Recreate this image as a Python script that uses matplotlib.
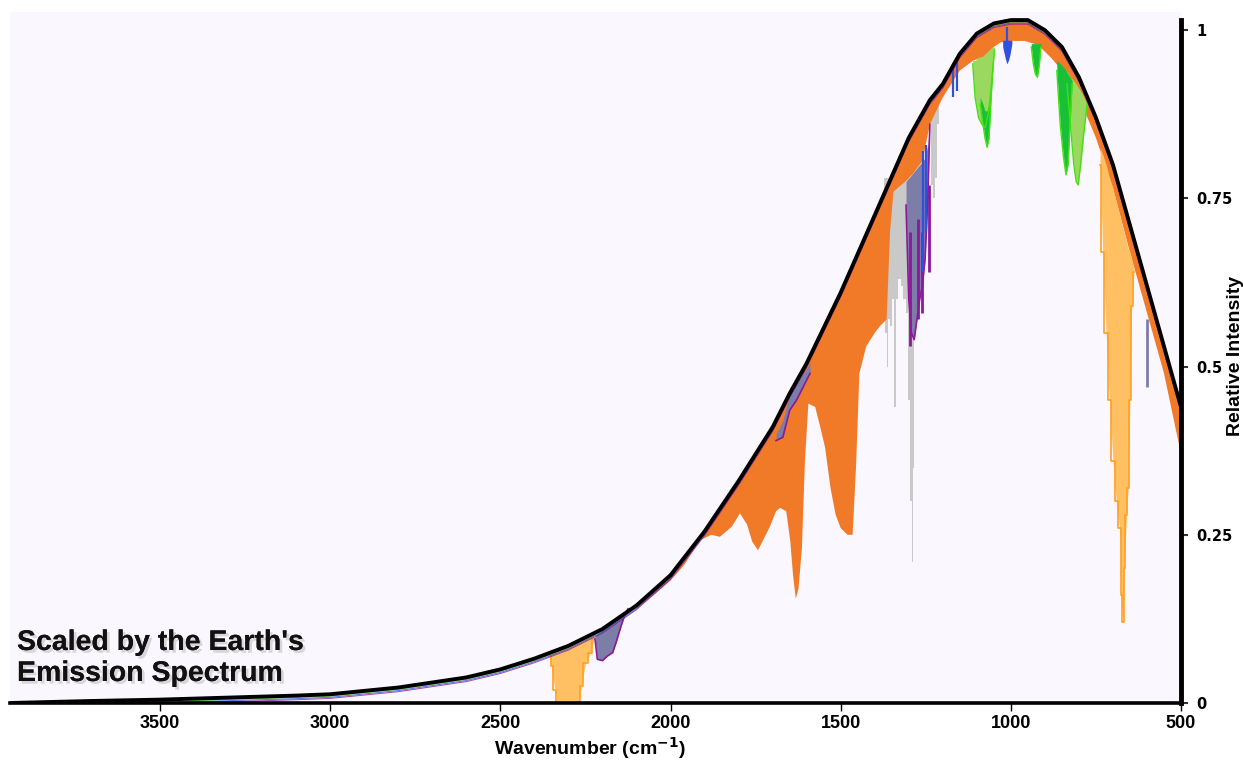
import numpy as np
import matplotlib
matplotlib.use("Agg")
import matplotlib.pyplot as plt
import matplotlib.patheffects as pe
from matplotlib.transforms import offset_copy

# ---------------- data ----------------
# Earth emission envelope (black curve)
env_wn = [3940, 3700, 3500, 3300, 3100, 3000, 2800, 2600, 2500, 2400, 2300, 2200,
          2100, 2000, 1900, 1800, 1700, 1650, 1600, 1500, 1400, 1300, 1238, 1200,
          1150, 1100, 1050, 1000, 950, 900, 850, 800, 750, 700, 650, 600, 550, 500]
env_val = [0.0, 0.003, 0.005, 0.008, 0.011, 0.013, 0.023, 0.038, 0.05, 0.066, 0.085, 0.11,
           0.145, 0.19, 0.255, 0.33, 0.41, 0.46, 0.505, 0.61, 0.725, 0.84, 0.896, 0.92,
           0.965, 0.995, 1.01, 1.015, 1.015, 1.0, 0.975, 0.93, 0.87, 0.80, 0.71, 0.62, 0.53, 0.44]

# water vapour (orange) lower edge
h2o_wn = [2100, 2050, 2000, 1960, 1913, 1880, 1855, 1820, 1796, 1775, 1760, 1743, 1725,
          1708, 1690, 1678, 1660, 1648, 1640, 1632, 1624, 1614, 1605, 1595, 1575, 1560,
          1546, 1530, 1515, 1500, 1480, 1465, 1455, 1445, 1425, 1400, 1385, 1365, 1355,
          1345, 1310, 1290, 1260, 1238, 1200, 1150, 1110, 1080, 1050, 1030, 1000, 960,
          920, 880, 850, 800, 750, 700, 650, 600, 550, 500]
h2o_low = [0.14, 0.16, 0.182, 0.205, 0.242, 0.25, 0.247, 0.262, 0.282, 0.265, 0.24, 0.227, 0.245,
           0.262, 0.285, 0.29, 0.285, 0.24, 0.19, 0.155, 0.17, 0.23, 0.36, 0.445, 0.44, 0.41,
           0.38, 0.32, 0.28, 0.26, 0.25, 0.25, 0.35, 0.49, 0.53, 0.55, 0.56, 0.57, 0.70,
           0.76, 0.775, 0.785, 0.805, 0.86, 0.90, 0.94, 0.955, 0.96, 0.975, 0.982, 0.984, 0.984,
           0.978, 0.958, 0.94, 0.90, 0.84, 0.765, 0.67, 0.58, 0.49, 0.37]

# CO2 4.3 um band (light orange)
co2a_wn = [2355, 2350, 2340, 2333, 2300, 2270, 2262, 2250, 2235, 2225]
co2a_top = [0.072, 0.074, 0.077, 0.079, 0.085, 0.092, 0.094, 0.097, 0.10, 0.102]
co2a_low = [0.07, 0.055, 0.02, 0.0, 0.0, 0.0, 0.025, 0.06, 0.075, 0.095]

# CO2 15 um band (light orange)
co2b_wn = [738, 730, 720, 710, 700, 690, 680, 675, 670, 667, 660, 655, 650, 645, 638]
co2b_top = [0.825, 0.815, 0.80, 0.78, 0.765, 0.745, 0.725, 0.715, 0.705, 0.70, 0.685, 0.675, 0.67, 0.66, 0.645]
co2b_low = [0.80, 0.67, 0.55, 0.45, 0.36, 0.30, 0.26, 0.16, 0.12, 0.20, 0.28, 0.32, 0.45, 0.59, 0.64]

# N2O bands (slate)
n2oa_wn = [2222, 2215, 2200, 2185, 2170, 2160, 2145, 2135, 2125]
n2oa_top = [0.10, 0.103, 0.11, 0.115, 0.12, 0.125, 0.13, 0.135, 0.14]
n2oa_low = [0.095, 0.065, 0.063, 0.07, 0.075, 0.09, 0.115, 0.13, 0.14]

n2ob_wn = [1308, 1300, 1292, 1284, 1276, 1268, 1260, 1252, 1244, 1238]
n2ob_top = [0.775, 0.78, 0.785, 0.79, 0.795, 0.80, 0.805, 0.81, 0.83, 0.86]
n2ob_low = [0.74, 0.60, 0.55, 0.54, 0.57, 0.60, 0.62, 0.66, 0.75, 0.86]

n2oc_wn = [1690, 1670, 1650, 1630, 1610, 1590]
n2oc_top = [0.40, 0.42, 0.46, 0.475, 0.49, 0.505]
n2oc_low = [0.39, 0.395, 0.435, 0.45, 0.47, 0.49]

# CH4 (grey)
ch4a_wn = [1372, 1366, 1362, 1358, 1352, 1346, 1341, 1336, 1328, 1320, 1312, 1305,
           1298, 1293, 1290, 1287, 1282, 1276, 1270]
ch4a_top = [0.78] * 19
ch4a_low = [0.62, 0.55, 0.50, 0.57, 0.56, 0.60, 0.44, 0.60, 0.63, 0.62, 0.60, 0.58,
            0.45, 0.30, 0.21, 0.35, 0.55, 0.60, 0.65]
ch4b_wn = [1240, 1232, 1226, 1220, 1214, 1208]
ch4b_top = [0.88, 0.89, 0.895, 0.90, 0.905, 0.91]
ch4b_low = [0.86, 0.77, 0.75, 0.78, 0.86, 0.91]

# O3 (blue)
o3_wn = [1024, 1018, 1012, 1007, 1002, 997]
o3_top = [0.985] * 6
o3_low = [0.975, 0.962, 0.95, 0.955, 0.965, 0.98]
o3_lines_wn = [1258, 1250, 1170, 1158, 1012]
o3_lines_lo = [0.64, 0.70, 0.90, 0.91, 0.955]
o3_lines_hi = [0.82, 0.83, 0.95, 0.955, 1.005]

# purple streaks
pur_wn = [1296, 1273, 1261, 1240]
pur_lo = [0.53, 0.57, 0.58, 0.64]
pur_hi = [0.70, 0.72, 0.70, 0.77]

# CFC-like bands (greens)
lg1_wn = [1112, 1105, 1095, 1085, 1075, 1065, 1055, 1048]
lg1_top = [0.955, 0.955, 0.96, 0.96, 0.965, 0.97, 0.975, 0.975]
lg1_low = [0.95, 0.90, 0.87, 0.86, 0.855, 0.88, 0.93, 0.97]
dg1_wn = [1090, 1082, 1076, 1070, 1064, 1058, 1052]
dg1_top = [0.90, 0.89, 0.88, 0.88, 0.89, 0.92, 0.95]
dg1_low = [0.89, 0.86, 0.84, 0.826, 0.84, 0.90, 0.95]
dg2_wn = [940, 934, 928, 922, 916, 912]
dg2_top = [0.98] * 6
dg2_low = [0.975, 0.95, 0.935, 0.93, 0.95, 0.975]
dg3_wn = [865, 855, 845, 838, 832, 826, 820]
dg3_top = [0.955, 0.95, 0.945, 0.94, 0.935, 0.93, 0.925]
dg3_low = [0.94, 0.86, 0.81, 0.785, 0.80, 0.86, 0.92]
lg3_wn = [835, 825, 815, 808, 802, 795, 785, 776]
lg3_top = [0.94, 0.93, 0.925, 0.92, 0.915, 0.91, 0.90, 0.89]
lg3_low = [0.92, 0.86, 0.80, 0.775, 0.77, 0.80, 0.85, 0.89]

slate_line_wn = [601]
slate_line_lo = [0.47]
slate_line_hi = [0.57]

xticks = [3500, 3000, 2500, 2000, 1500, 1000, 500]
yticks = [0, 0.25, 0.5, 0.75, 1]
ytick_labels = ["0", "0.25", "0.5", "0.75", "1"]

# ---------------- colours ----------------
C_ORANGE = "#f07a28"
C_LORANGE = "#ffc064"
C_LORANGE_E = "#ffa020"
C_SLATE = "#7c7ea8"
C_PURPLE = "#8a1a9a"
C_GREY = "#c9c9c9"
C_BLUE = "#3050e0"
C_LGREEN = "#9ad860"
C_DGREEN = "#18c038"
C_BGREEN = "#44e010"
BG = "#faf8fe"

# ---------------- figure ----------------
fig = plt.figure(figsize=(12.43, 7.61), dpi=100)
fig.patch.set_facecolor("white")
ax = fig.add_axes([10 / 1243, 58 / 761, 1171 / 1243, 691 / 761])
ax.set_facecolor(BG)
ax.set_xlim(3941, 500)
ax.set_ylim(0, 1.027)

env_wn_a = np.array(env_wn)
env_val_a = np.array(env_val)

# grey (CH4) behind everything
ax.fill_between(ch4a_wn, ch4a_low, ch4a_top, step="mid", color=C_GREY, lw=0, zorder=1)
ax.fill_between(ch4b_wn, ch4b_low, ch4b_top, step="mid", color=C_GREY, lw=0, zorder=1)

# water vapour polygon: along envelope then back along lower edge
mask = env_wn_a <= h2o_wn[0]
poly_x = np.concatenate([env_wn_a[mask], np.array(h2o_wn)[::-1]])
poly_y = np.concatenate([env_val_a[mask], np.array(h2o_low)[::-1]])
ax.fill(poly_x, poly_y, color=C_ORANGE, lw=0, zorder=2)

# CO2 bands
for w, t, l in [(co2a_wn, co2a_top, co2a_low), (co2b_wn, co2b_top, co2b_low)]:
    ax.fill_between(w, l, t, color=C_LORANGE, lw=0, zorder=3)
    ax.step(w, l, where="mid", color=C_LORANGE_E, lw=1.2, zorder=3.1)

# N2O bands
for w, t, l in [(n2oa_wn, n2oa_top, n2oa_low), (n2ob_wn, n2ob_top, n2ob_low),
                (n2oc_wn, n2oc_top, n2oc_low)]:
    ax.fill_between(w, l, t, color=C_SLATE, lw=0, zorder=3)
    ax.plot(w, l, color=C_PURPLE, lw=1.2, zorder=3.1)
ax.vlines(slate_line_wn, slate_line_lo, slate_line_hi, color=C_SLATE, lw=2, zorder=3)
ax.vlines(pur_wn, pur_lo, pur_hi, color=C_PURPLE, lw=2, zorder=3.2)

# ozone
ax.fill_between(o3_wn, o3_low, o3_top, color=C_BLUE, lw=0, zorder=3)
ax.vlines(o3_lines_wn, o3_lines_lo, o3_lines_hi, color=C_BLUE, lw=1.6, zorder=3.2)

# greens
for w, t, l, c in [(lg1_wn, lg1_top, lg1_low, C_LGREEN), (dg1_wn, dg1_top, dg1_low, C_DGREEN),
                   (dg2_wn, dg2_top, dg2_low, C_DGREEN), (lg3_wn, lg3_top, lg3_low, C_LGREEN),
                   (dg3_wn, dg3_top, dg3_low, C_DGREEN)]:
    ax.fill_between(w, l, t, color=c, lw=0, zorder=3.3)
    ax.plot(w, l, color=C_BGREEN, lw=1.0, zorder=3.4)

# fringe lines just under the envelope
for dy, col in [(-1.4, C_BGREEN), (-2.2, C_BLUE), (-3.0, C_PURPLE)]:
    tr = offset_copy(ax.transData, fig=fig, x=0, y=dy, units="points")
    ax.plot(env_wn, env_val, color=col, lw=0.7, transform=tr, zorder=4, alpha=0.8)

# envelope
ax.plot(env_wn, env_val, color="black", lw=2.8, zorder=5, solid_joinstyle="round")

# ---------------- axes styling ----------------
for s in ["top", "left"]:
    ax.spines[s].set_visible(False)
ax.spines["right"].set_linewidth(3.5)
ax.spines["right"].set_bounds(0, 1.015)
ax.spines["bottom"].set_linewidth(2.6)
ax.spines["bottom"].set_zorder(6)
ax.spines["right"].set_zorder(6)

ax.yaxis.tick_right()
ax.set_yticks(yticks)
ax.set_yticklabels(ytick_labels, fontsize=10.5, fontweight="bold", family="DejaVu Sans")
ax.tick_params(axis="y", length=5, width=1.5, color="#333333", pad=6)

ax.set_xticks(xticks)
ax.set_xticklabels([str(v) for v in xticks], fontsize=13, fontweight="bold",
                   family=["Liberation Sans", "DejaVu Sans"])
ax.tick_params(axis="x", length=6, width=1, color="black", pad=3)

plt.rcParams["mathtext.default"] = "bf"
fig.text(590 / 1243, 1 - 748 / 761, r"Wavenumber (cm$^{-1}$)", ha="center", va="center",
         fontsize=14, fontweight="bold", family=["Liberation Sans", "DejaVu Sans"])
fig.text(1236 / 1243, 1 - 356 / 761, "Relative Intensity", ha="center", va="center",
         rotation=90, fontsize=14, fontweight="bold",
         family=["Liberation Sans", "DejaVu Sans"])

shadow = [pe.withSimplePatchShadow(offset=(2, -2), shadow_rgbFace="#999999", alpha=0.35),
          pe.Normal()]
fig.text(17 / 1243, 1 - 650 / 761, "Scaled by the Earth's", ha="left", va="baseline",
         fontsize=20.5, fontweight="bold", family=["Liberation Sans", "DejaVu Sans"],
         color="#111111", path_effects=shadow)
fig.text(17 / 1243, 1 - 681 / 761, "Emission Spectrum", ha="left", va="baseline",
         fontsize=20.5, fontweight="bold", family=["Liberation Sans", "DejaVu Sans"],
         color="#111111", path_effects=shadow)

fig.savefig("out.png", dpi=100, facecolor="white")
